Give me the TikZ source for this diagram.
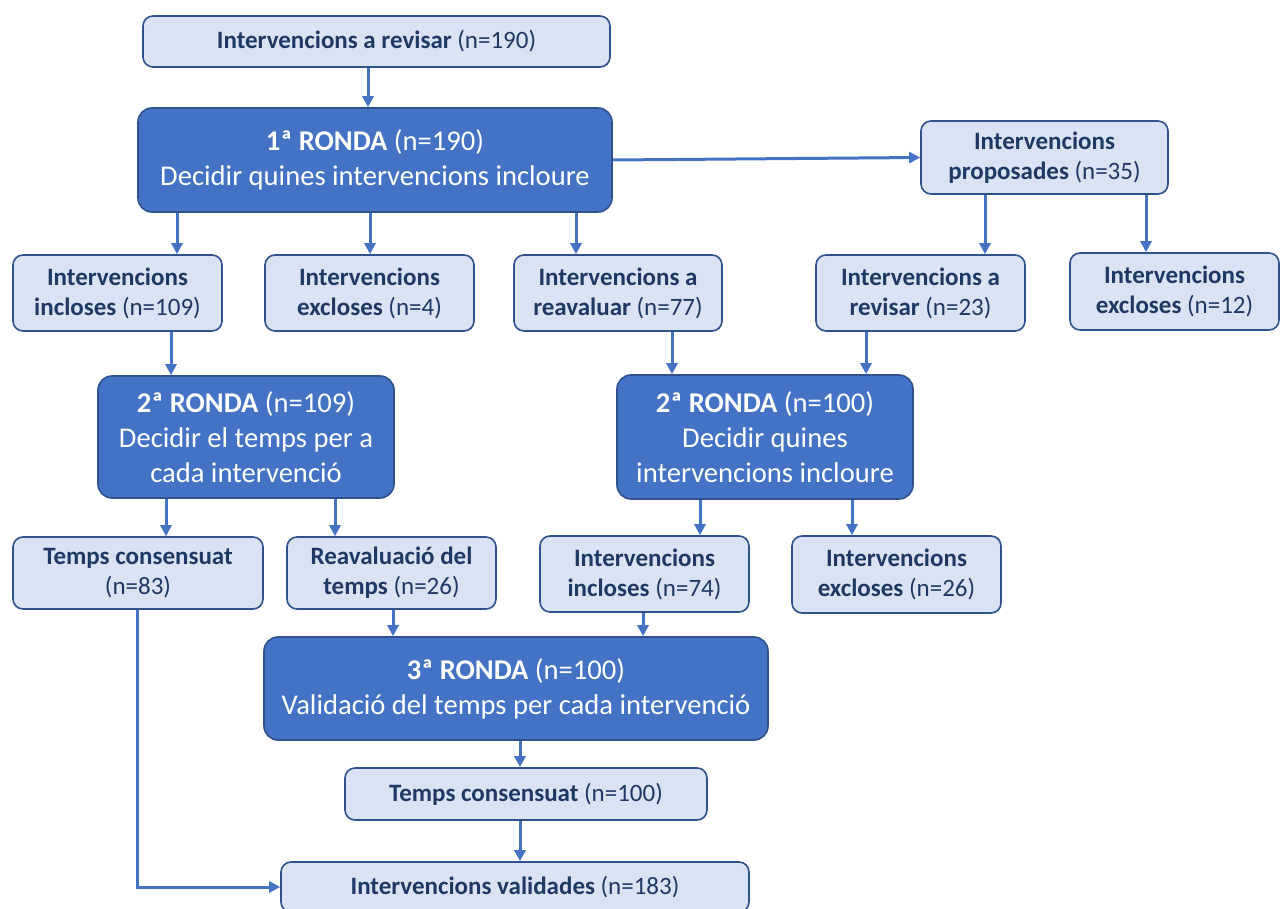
\documentclass[tikz,border=0pt]{standalone}
\usepackage{fontspec}
\setmainfont{Carlito}
\usetikzlibrary{shapes,arrows.meta}
\definecolor{rondafill}{HTML}{4472C4}
\definecolor{rondaline}{HTML}{2F528F}
\definecolor{boxfill}{HTML}{DAE3F3}
\definecolor{boxline}{HTML}{2F528F}
\definecolor{boxtext}{HTML}{1F3864}
\tikzstyle{ronda} = [rectangle, draw=rondaline, line width=0.8pt, fill=rondafill,
text=white, align=center, rounded corners=7pt, inner sep=0pt,
font=\fontsize{14.3}{17.5}\selectfont]
\tikzstyle{box} = [rectangle, draw=boxline, line width=0.8pt, fill=boxfill,
text=boxtext, align=center, rounded corners=5pt, inner sep=0pt,
font=\fontsize{12.5}{15}\selectfont]
\tikzstyle{line} = [draw=rondafill, line width=1.5pt, -{Triangle[length=5.5pt,width=5.5pt]}]

\begin{document}
\begin{tikzpicture}[x=0.5pt, y=-0.5pt]
\useasboundingbox (0,0) rectangle (1285,909);

% Place nodes
\node [box, minimum width=233.5pt, minimum height=25.5pt] (top) at (376.5,41.5) {\textbf{Intervencions a revisar} (n=190)};
\node [ronda, minimum width=237pt, minimum height=52pt] (ronda1) at (375,160) {\textbf{1ª RONDA} (n=190)\\Decidir quines intervencions incloure};
\node [box, minimum width=123.5pt, minimum height=36.5pt] (prop) at (1044.5,157.5) {\textbf{Intervencions}\\\textbf{proposades} (n=35)};
\node [box, minimum width=104.5pt, minimum height=38pt] (incl109) at (117.5,293) {\textbf{Intervencions}\\\textbf{incloses} (n=109)};
\node [box, minimum width=104.5pt, minimum height=38pt] (excl4) at (369.5,293) {\textbf{Intervencions}\\\textbf{excloses} (n=4)};
\node [box, minimum width=104pt, minimum height=38pt] (reav77) at (618,293) {\textbf{Intervencions a}\\\textbf{reavaluar} (n=77)};
\node [box, minimum width=104.5pt, minimum height=38pt] (rev23) at (920.5,293) {\textbf{Intervencions a}\\\textbf{revisar} (n=23)};
\node [box, minimum width=104.5pt, minimum height=38.5pt] (excl12) at (1174.5,291.5) {\textbf{Intervencions}\\\textbf{excloses} (n=12)};
\node [ronda, minimum width=148pt, minimum height=61pt] (ronda2a) at (246,437) {\textbf{2ª RONDA} (n=109)\\Decidir el temps per a\\cada intervenció};
\node [ronda, minimum width=148pt, minimum height=62pt] (ronda2b) at (765,437) {\textbf{2ª RONDA} (n=100)\\Decidir quines\\intervencions incloure};
\node [box, minimum width=125pt, minimum height=36pt] (cons83) at (138,573) {\textbf{Temps consensuat}\\(n=83)};
\node [box, minimum width=104.5pt, minimum height=36pt] (reav26) at (391.5,573) {\textbf{Reavaluació del}\\\textbf{temps} (n=26)};
\node [box, minimum width=104.5pt, minimum height=38pt] (incl74) at (644.5,574) {\textbf{Intervencions}\\\textbf{incloses} (n=74)};
\node [box, minimum width=104.5pt, minimum height=38.5pt] (excl26) at (896.5,574.5) {\textbf{Intervencions}\\\textbf{excloses} (n=26)};
\node [ronda, minimum width=252pt, minimum height=51.5pt] (ronda3) at (516,688.5) {\textbf{3ª RONDA} (n=100)\\Validació del temps per cada intervenció};
\node [box, minimum width=181pt, minimum height=26pt] (cons100) at (526,794) {\textbf{Temps consensuat} (n=100)};
\node [box, minimum width=234pt, minimum height=25pt] (valid) at (515,887) {\textbf{Intervencions validades} (n=183)};

% Arrow positions
\coordinate (k0) at (368,0);
\coordinate (k1) at (177,0);
\coordinate (k2) at (370,0);
\coordinate (k3) at (576,0);
\coordinate (k4) at (985,0);
\coordinate (k5) at (1146,0);
\coordinate (k6) at (171,0);
\coordinate (k7) at (672,0);
\coordinate (k8) at (866,0);
\coordinate (k9) at (166,0);
\coordinate (k10) at (335,0);
\coordinate (k11) at (700,0);
\coordinate (k12) at (852,0);
\coordinate (k13) at (393,0);
\coordinate (k14) at (643,0);
\coordinate (k15) at (520,0);
\coordinate (k16) at (137,0);

% Draw edges
\path [line] (k0 |- top.south) -- (k0 |- ronda1.north);
\path [line] (ronda1.east) -- (prop.west);
\path [line] (k1 |- ronda1.south) -- (k1 |- incl109.north);
\path [line] (k2 |- ronda1.south) -- (k2 |- excl4.north);
\path [line] (k3 |- ronda1.south) -- (k3 |- reav77.north);
\path [line] (k4 |- prop.south) -- (k4 |- rev23.north);
\path [line] (k5 |- prop.south) -- (k5 |- excl12.north);
\path [line] (k6 |- incl109.south) -- (k6 |- ronda2a.north);
\path [line] (k7 |- reav77.south) -- (k7 |- ronda2b.north);
\path [line] (k8 |- rev23.south) -- (k8 |- ronda2b.north);
\path [line] (k9 |- ronda2a.south) -- (k9 |- cons83.north);
\path [line] (k10 |- ronda2a.south) -- (k10 |- reav26.north);
\path [line] (k11 |- ronda2b.south) -- (k11 |- incl74.north);
\path [line] (k12 |- ronda2b.south) -- (k12 |- excl26.north);
\path [line] (k13 |- reav26.south) -- (k13 |- ronda3.north);
\path [line] (k14 |- incl74.south) -- (k14 |- ronda3.north);
\path [line] (k15 |- ronda3.south) -- (k15 |- cons100.north);
\path [line] (k15 |- cons100.south) -- (k15 |- valid.north);
\path [line] (k16 |- cons83.south) |- (valid.west);
\end{tikzpicture}
\end{document}
